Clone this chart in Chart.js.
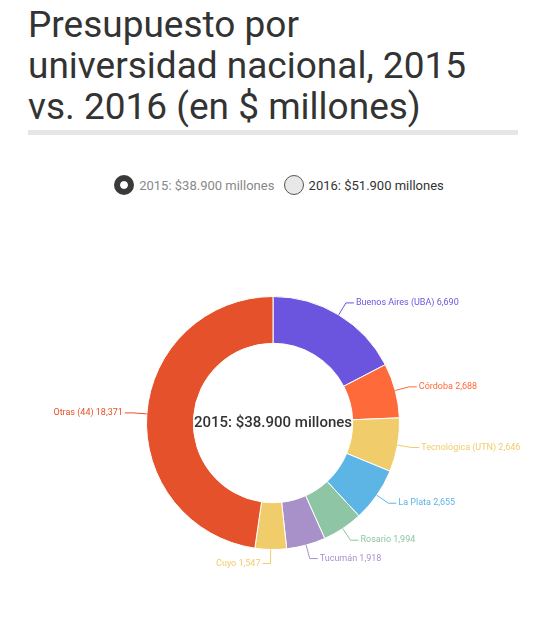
<!DOCTYPE html>
<html>
<head>
<meta charset="utf-8">
<script src="https://cdn.jsdelivr.net/npm/chart.js@4"></script>
<style>
body{margin:0;width:558px;height:620px;position:relative;font-family:Roboto,sans-serif;background:#fff;overflow:hidden}
#titulo{position:absolute;left:28px;top:4px;width:520px;font-size:37px;font-weight:400;line-height:41px;color:#333;margin:0;white-space:nowrap}
#regla{position:absolute;left:28px;top:130px;width:490px;height:5px;background:#e6e6e6}
#leyenda{position:absolute;top:175px;left:0;width:558px;text-align:center;font-size:13px}
.item{display:inline-flex;align-items:center;margin:0 3px}
.dot{width:20px;height:20px;border-radius:50%;box-sizing:border-box;margin-right:5px}
canvas{position:absolute;left:0;top:0}
</style>
</head>
<body>
<h1 id="titulo">Presupuesto por<br>universidad nacional, 2015<br>vs. 2016 (en $ millones)</h1>
<div id="regla"></div>
<div id="leyenda">
  <span class="item" style="color:#888"><span class="dot" style="background:#3a3a3a;border:6px solid #3a3a3a;box-shadow:inset 0 0 0 4px #fff"></span>2015: $38.900 millones</span>
  <span class="item" style="color:#333"><span class="dot" style="background:#e8e8e8;border:1px solid #555"></span>2016: $51.900 millones</span>
</div>
<div style="position:absolute;left:0;top:0;width:558px;height:620px"><canvas id="grafico"></canvas></div>
<script>
// DATOS
const universidades = ['Buenos Aires (UBA)','Córdoba','Tecnológica (UTN)','La Plata','Rosario','Tucumán','Cuyo','Otras (44)'];
const presupuesto2015 = [6690, 2688, 2646, 2655, 1994, 1918, 1547, 18371];
const etiquetasValor = ['6,690','2,688','2,646','2,655','1,994','1,918','1,547','18,371'];
const colores = ['#6b55de','#ff6a3a','#f0cc6a','#5db5e5','#8ec5a5','#a891c8','#f0cc6a','#e5512a'];

// ETIQUETAS CON LINEA
const etiquetas = {
    id:'etiquetas',
    afterDraw(chart){
        const ctx = chart.ctx;
        const meta = chart.getDatasetMeta(0);
        ctx.save();
        ctx.font = '9px Roboto';
        meta.data.forEach((arc,i)=>{
            const a = (arc.startAngle + arc.endAngle)/2;
            const r = arc.outerRadius;
            const x0 = arc.x + Math.cos(a)*r, y0 = arc.y + Math.sin(a)*r;
            const x1 = arc.x + Math.cos(a)*(r+14), y1 = arc.y + Math.sin(a)*(r+14);
            const der = Math.cos(a) >= 0;
            const x2 = x1 + (der ? 8 : -8);
            ctx.strokeStyle = colores[i];
            ctx.lineWidth = 1;
            ctx.beginPath(); ctx.moveTo(x0,y0); ctx.lineTo(x1,y1); ctx.lineTo(x2,y1); ctx.stroke();
            ctx.fillStyle = colores[i];
            ctx.textAlign = der ? 'left' : 'right';
            ctx.textBaseline = 'middle';
            ctx.fillText(universidades[i]+' '+etiquetasValor[i], x2 + (der?2:-2), y1);
        });
        ctx.font = '500 15px Roboto';
        ctx.fillStyle = '#333';
        ctx.textAlign = 'center';
        ctx.fillText('2015: $38.900 millones', meta.data[0].x, meta.data[0].y);
        ctx.restore();
    }
};

new Chart(document.getElementById('grafico'), {
    type:'doughnut',
    data:{
        labels: universidades,
        datasets:[{
            data: presupuesto2015,
            backgroundColor: colores,
            borderColor:'#fff',
            borderWidth:1
        }]
    },
    options:{
        responsive:true,
        maintainAspectRatio:false,
        animation:false,
        cutout:'63%',
        layout:{padding:{left:146,right:158,top:296,bottom:70}},
        plugins:{legend:{display:false},tooltip:{enabled:false}}
    },
    plugins:[etiquetas]
});
</script>
</body>
</html>
